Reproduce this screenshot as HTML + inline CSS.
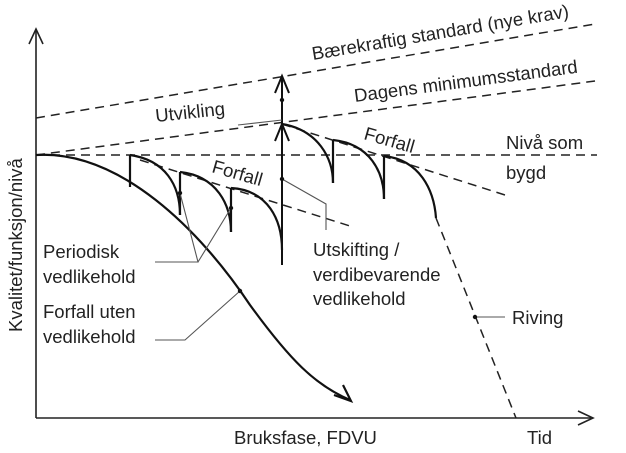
<!DOCTYPE html>
<html><head><meta charset="utf-8"><style>
html,body{margin:0;padding:0;background:#fff;width:626px;height:453px;overflow:hidden}
svg{display:block}
text{font-family:"Liberation Sans",sans-serif;font-size:18.5px;fill:#222}
</style></head><body>
<svg width="626" height="453" viewBox="0 0 626 453" xmlns="http://www.w3.org/2000/svg">
<g fill="none" stroke="#222" stroke-width="1.6">
<path d="M36 418 V29"/>
<path d="M29 44 L36 29 L43 44"/>
<path d="M36 418 H593"/>
<path d="M578 411 L593 418 L578 425"/>
</g>
<g fill="none" stroke="#222" stroke-width="1.5" stroke-dasharray="9,6">
<path d="M36 118 L595 24"/>
<path d="M36 155 L595 81"/>
<path d="M36 155 H597"/>
<path d="M140 160 L350 226"/>
<path d="M282 124 L505 195"/>
<path d="M436 218 L516 418"/>
</g>
<g fill="none" stroke="#111" stroke-width="2.2">
<path d="M36 155 C120 150 200 230 250 305 C290 360 315 385 350 400"/>
<path d="M334 395 L351 401 L343 385"/>
<path d="M130 155 V187"/>
<path d="M130 155 C165 160 180 185 180 215"/>
<path d="M180 172 V215"/>
<path d="M180 172 C217 176 231 205 231 232"/>
<path d="M231 188 V232"/>
<path d="M231 188 C268 190 282 220 282 250"/>
<path d="M282 124 C318 130 333 158 333 183"/>
<path d="M333 140 V183"/>
<path d="M333 140 C370 144 384 172 384 199"/>
<path d="M384 156 V199"/>
<path d="M384 156 C420 160 434 190 436 218"/>
</g>
<g fill="none" stroke="#111" stroke-width="2">
<path d="M282 265 V76"/>
<path d="M275 93 L282 76 L289 93"/>
<path d="M275 141 L282 124 L289 141"/>
</g>
<g fill="none" stroke="#555" stroke-width="1.1">
<path d="M238 125 L282 120"/>
<path d="M282 179 L326 204 V230"/>
<path d="M155 262 H198 L180 193 M198 262 L231 208"/>
<path d="M155 340 H185 L240 291"/>
<path d="M475 317 H505"/>
</g>
<g fill="#111">
<circle cx="282" cy="100" r="2.2"/><circle cx="282" cy="179" r="2.2"/>
<circle cx="180" cy="193" r="2.2"/><circle cx="231" cy="208" r="2.2"/>
<circle cx="240" cy="291" r="2.2"/><circle cx="475" cy="317" r="2.2"/>
</g>
<text transform="translate(313,60) rotate(-9.5)">Bærekraftig standard (nye krav)</text>
<text transform="translate(355,102) rotate(-7.5)">Dagens minimumsstandard</text>
<text transform="translate(156,122) rotate(-6)">Utvikling</text>
<text transform="translate(211,172) rotate(16)">Forfall</text>
<text transform="translate(363,139) rotate(16)">Forfall</text>
<text x="506" y="149">Nivå som</text>
<text x="506" y="179">bygd</text>
<text x="313" y="256">Utskifting /</text>
<text x="313" y="281">verdibevarende</text>
<text x="313" y="305">vedlikehold</text>
<text x="43" y="258">Periodisk</text>
<text x="43" y="283">vedlikehold</text>
<text x="43" y="318">Forfall uten</text>
<text x="43" y="343">vedlikehold</text>
<text x="512" y="324">Riving</text>
<text x="234" y="444">Bruksfase, FDVU</text>
<text x="527" y="444">Tid</text>
<text transform="translate(22,332) rotate(-90)">Kvalitet/funksjon/nivå</text>
</svg>
</body></html>
